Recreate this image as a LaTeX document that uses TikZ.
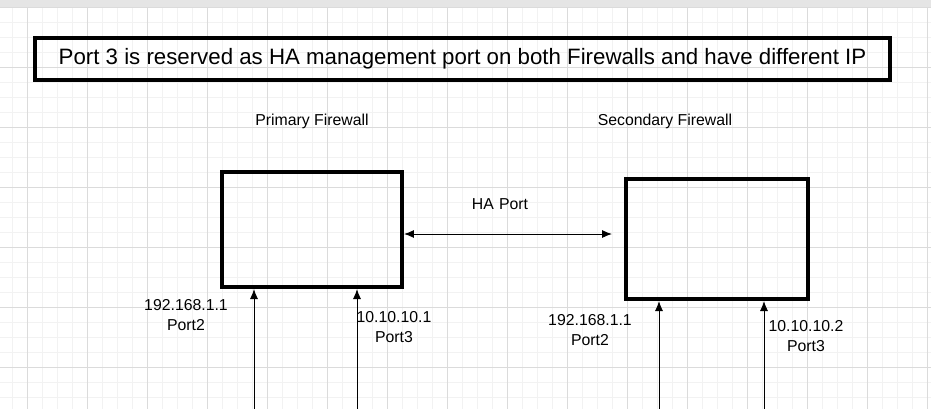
\documentclass[tikz,border=0pt]{standalone}
\usepackage{fontspec}
\setmainfont{Liberation Sans}
\usetikzlibrary{arrows.meta, positioning}

\begin{document}
\begin{tikzpicture}[
  x=0.03cm, y=-0.03cm,
  every node/.style={font=\fontsize{13.5}{16}\selectfont, align=center},
  fwbox/.style={rectangle, draw, line width=3.4pt, inner sep=0pt},
  portlabel/.style={font=\fontsize{13.5}{16.5}\selectfont, align=center},
  link/.style={draw, {Latex[length=3mm, width=2.4mm]}-, line width=0.8pt},
  ha link/.style={draw, {Latex[length=3mm, width=2.4mm]}-{Latex[length=3mm, width=2.4mm]}, line width=0.8pt}
]
\useasboundingbox (0,0) rectangle (931,409);

% grid background
\fill[gray!20] (0,0) rectangle (931,8);
\foreach \x in {12,27,...,931} \draw[gray!10, line width=0.4pt] (\x,8) -- (\x,409);
\foreach \y in {22,37,...,409} \draw[gray!10, line width=0.4pt] (0,\y) -- (931,\y);
\foreach \x in {27,87,...,931} \draw[gray!28, line width=0.5pt] (\x,8) -- (\x,409);
\foreach \y in {7,67,...,409} \draw[gray!28, line width=0.5pt] (0,\y) -- (931,\y);

% title
\node[fwbox, minimum width=855*0.03cm, minimum height=42*0.03cm,
  font=\fontsize{19}{22}\selectfont] (title) at (462.5,59)
  {Port 3 is reserved as HA management port on both Firewalls and have different IP};

% firewalls
\node[fwbox, minimum width=180*0.03cm, minimum height=115*0.03cm] (primary) at (312,229.5) {};
\node[fwbox, minimum width=182*0.03cm, minimum height=120*0.03cm] (secondary) at (717,239) {};
\node (primarylabel) at (312,121) {Primary Firewall};
\node (secondarylabel) at (665,121) {Secondary Firewall};

% HA link
\coordinate (haend) at (612,234);
\draw[ha link] (primary.east |- haend) -- (haend);
\node (halabel) at (500,204) {HA\,\,Port};

% ports
\coordinate (p2) at (254,409);
\coordinate (p3) at (357,409);
\coordinate (s2) at (659,409);
\coordinate (s3) at (764,409);
\draw[link] (primary.south -| p2) -- (p2);
\draw[link] (primary.south -| p3) -- (p3);
\draw[link] (secondary.south -| s2) -- (s2);
\draw[link] (secondary.south -| s3) -- (s3);

\node[portlabel] (p2label) at (186,315) {192.168.1.1\\Port2};
\node[portlabel] (p3label) at (394,327) {10.10.10.1\\Port3};
\node[portlabel] (s2label) at (590,330) {192.168.1.1\\Port2};
\node[portlabel] (s3label) at (806,336) {10.10.10.2\\Port3};
\end{tikzpicture}
\end{document}
